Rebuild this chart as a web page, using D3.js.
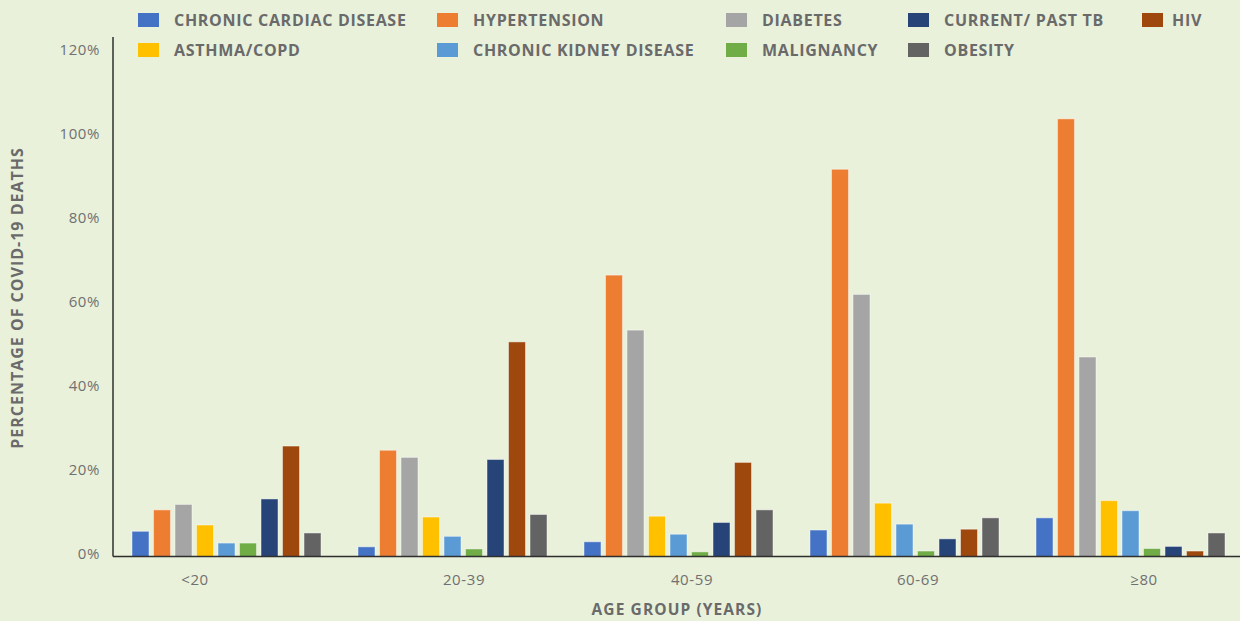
<!DOCTYPE html>
<html>
<head>
<meta charset="utf-8">
<script src="https://cdn.jsdelivr.net/npm/d3@7"></script>
<style>
  body { margin: 0; background: #e9f1db; }
  svg { display: block; }
  .tick text { font-family: "Open Sans", sans-serif; font-size: 15px; fill: #707070; letter-spacing: 0.6px; }
  .legend text, .title { font-family: "Open Sans", sans-serif; font-weight: 700; font-size: 16px; fill: #6a6a6a; letter-spacing: 0.7px; }
</style>
</head>
<body>
<div id="chart"></div>
<script>
// age groups on the x axis
const AGE_GROUPS = ['<20', '20-39', '40-59', '60-69', '≥80'];

// comorbidities, in the order the bars are drawn
const SERIES = ['CHRONIC CARDIAC DISEASE', 'HYPERTENSION', 'DIABETES', 'ASTHMA/COPD',
                'CHRONIC KIDNEY DISEASE', 'MALIGNANCY', 'CURRENT/ PAST TB', 'HIV', 'OBESITY'];

const COLORS = ['#4472c4', '#ed7d31', '#a5a5a5', '#ffc000', '#5b9bd5', '#70ad47', '#264478', '#9e480e', '#636363'];

// percentage of covid-19 deaths, one array per age group (same order as SERIES)
const UNDER_20  = [6.0, 11.1, 12.4, 7.5, 3.2, 3.2, 13.7, 26.3, 5.6];
const AGE_20_39 = [2.3, 25.3, 23.6, 9.4, 4.8, 1.8, 23.1, 51.1, 10.0];
const AGE_40_59 = [3.5, 67.0, 53.9, 9.6, 5.3, 1.1, 8.1, 22.4, 11.1];
const AGE_60_69 = [6.3, 92.2, 62.4, 12.7, 7.7, 1.3, 4.2, 6.5, 9.2];
const AGE_80    = [9.2, 104.2, 47.5, 13.3, 10.9, 1.9, 2.4, 1.3, 5.6];

const Y_TICKS = [0, 20, 40, 60, 80, 100, 120];

const VALUES = [UNDER_20, AGE_20_39, AGE_40_59, AGE_60_69, AGE_80];

// legend layout: two rows, five columns
const LEGEND_COL = [138, 437, 726, 908, 1142];
const LEGEND_ITEMS = [
    {s: 0, row: 0, col: 0}, {s: 1, row: 0, col: 1}, {s: 2, row: 0, col: 2}, {s: 6, row: 0, col: 3}, {s: 7, row: 0, col: 4},
    {s: 3, row: 1, col: 0}, {s: 4, row: 1, col: 1}, {s: 5, row: 1, col: 2}, {s: 8, row: 1, col: 3}
];

// label nudges along the x axis (labels aren't centred on the groups in the original)
const TICK_SHIFT = [-31, 12, 14, 14, 14];

const W = 1240, H = 621;
const LEFT = 113, BASE = 556.5;

const svg = d3.select('#chart')
    .append('svg')
    .attr('width', W)
    .attr('height', H);

svg.append('rect').attr('width', W).attr('height', H).attr('fill', '#e9f1db');

const x0 = d3.scaleBand()
    .domain(AGE_GROUPS)
    .range([LEFT, LEFT + 226 * AGE_GROUPS.length]);

const x1 = d3.scaleBand()
    .domain(SERIES)
    .range([19, 208])
    .paddingInner(0.21);

const y = d3.scaleLinear()
    .domain([0, 120])
    .range([BASE, BASE - 6 * 84]);

// bars
const groups = svg.selectAll('.group')
    .data(AGE_GROUPS)
    .enter()
    .append('g')
    .attr('class', 'group')
    .attr('transform', d => `translate(${x0(d)},0)`);

groups.selectAll('rect')
    .data((d, i) => VALUES[i].map((v, j) => ({series: SERIES[j], value: v, color: COLORS[j]})))
    .enter()
    .append('rect')
    .attr('x', d => x1(d.series))
    .attr('width', x1.bandwidth())
    .attr('y', d => y(d.value))
    .attr('height', d => BASE - y(d.value))
    .attr('fill', d => d.color)
    .attr('stroke', 'rgba(255,255,255,0.45)')
    .attr('stroke-width', 1);

// y axis
const yAxis = svg.append('g')
    .attr('transform', `translate(${LEFT},0)`)
    .call(d3.axisLeft(y).tickValues(Y_TICKS).tickSize(0).tickPadding(13).tickFormat(d => d + '%'));
yAxis.select('.domain').remove();
yAxis.selectAll('.tick text').attr('y', -3);

svg.append('line')
    .attr('x1', LEFT).attr('x2', LEFT)
    .attr('y1', 37).attr('y2', BASE)
    .attr('stroke', '#2f2f2f').attr('stroke-width', 1.5);

// x axis
const xAxis = svg.append('g')
    .attr('transform', `translate(0,${BASE})`)
    .call(d3.axisBottom(x0).tickSize(0).tickPadding(18));
xAxis.select('.domain').remove();
xAxis.selectAll('.tick text').attr('dx', (d, i) => TICK_SHIFT[i]);

svg.append('line')
    .attr('x1', LEFT).attr('x2', W)
    .attr('y1', BASE).attr('y2', BASE)
    .attr('stroke', '#2f2f2f').attr('stroke-width', 1.5);

// titles
svg.append('text')
    .attr('class', 'title')
    .attr('transform', 'translate(23,298) rotate(-90)')
    .attr('text-anchor', 'middle')
    .style('letter-spacing', '1px')
    .text('PERCENTAGE OF COVID-19 DEATHS');

svg.append('text')
    .attr('class', 'title')
    .attr('x', 677)
    .attr('y', 615)
    .attr('text-anchor', 'middle')
    .style('font-size', '15.5px')
    .style('letter-spacing', '1.1px')
    .text('AGE GROUP (YEARS)');

// legend
const legend = svg.append('g').attr('class', 'legend');
const item = legend.selectAll('g')
    .data(LEGEND_ITEMS)
    .enter()
    .append('g')
    .attr('transform', d => `translate(${LEGEND_COL[d.col]},${13 + d.row * 30})`);

item.append('rect')
    .attr('width', 21)
    .attr('height', 14)
    .attr('fill', d => COLORS[d.s]);

item.append('text')
    .attr('x', d => d.col === 4 ? 30 : 36)
    .attr('y', 13)
    .text(d => SERIES[d.s]);
</script>
</body>
</html>
